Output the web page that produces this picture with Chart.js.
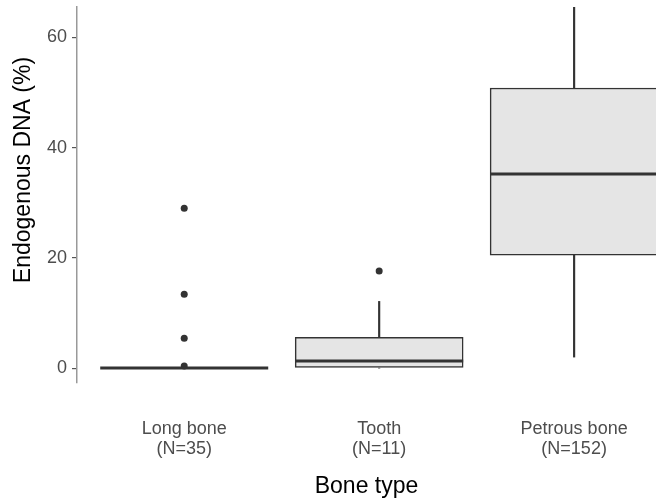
<!DOCTYPE html>
<html>
<head>
<meta charset="utf-8">
<script src="https://cdn.jsdelivr.net/npm/chart.js@4"></script>
<style>
  body { margin: 0; background: #fff; }
  #wrap { width: 656px; height: 501px; }
</style>
</head>
<body>
<div id="wrap"><canvas id="boneChart"></canvas></div>
<script>
// boxplot numbers
const categories = ["Long bone", "Tooth", "Petrous bone"];
const counts = [35, 11, 152];
const q1 = [0, 0, 20.5];
const median = [0, 1.3, 35.2];
const q3 = [0, 5.6, 50.8];
const whiskerLow = [0, 0, 2.0];
const whiskerHigh = [0, 12.1, 70];
const outliers = [[29.0, 13.4, 5.4, 0.4], [17.6], []];
const yTicks = [0, 20, 40, 60];

const font = '"Liberation Sans", Arial, Helvetica, sans-serif';
const dark = "#333333";

let boxes = [], lows = [], highs = [], meds = [], pts = [];
for (let i = 0; i < categories.length; i++) {
  boxes.push({ x: i + 1, y: [q1[i], q3[i]] });
  lows.push({ x: i + 1, y: [whiskerLow[i], q1[i]] });
  highs.push({ x: i + 1, y: [q3[i], whiskerHigh[i]] });
  meds.push({ x: i + 1, y: median[i] });
  for (let j = 0; j < outliers[i].length; j++) {
    pts.push({ x: i + 1, y: outliers[i][j] });
  }
}

// y axis title drawn by hand so it can sit where the original has it
const yTitle = {
  id: "yTitle",
  afterDraw(chart) {
    const ctx = chart.ctx;
    ctx.save();
    ctx.translate(24, 170);
    ctx.rotate(-Math.PI / 2);
    ctx.font = "23px " + font;
    ctx.fillStyle = "#000";
    ctx.textAlign = "center";
    ctx.textBaseline = "middle";
    ctx.fillText("Endogenous DNA (%)", 0, 0);
    ctx.restore();
  }
};

new Chart(document.getElementById("boneChart"), {
  type: "bar",
  data: {
    datasets: [
      { type: "scatter", data: meds, pointStyle: "line", pointRadius: 84, pointHoverRadius: 84,
        pointBorderWidth: 3, borderColor: dark, backgroundColor: dark, order: 0 },
      { type: "scatter", data: pts, pointRadius: 3.5, pointHoverRadius: 3.5,
        backgroundColor: dark, borderColor: dark, pointBorderWidth: 0, order: 1 },
      { data: lows, backgroundColor: dark, barThickness: 1.5, grouped: false, order: 2 },
      { data: highs, backgroundColor: dark, barThickness: 1.5, grouped: false, order: 3 },
      { data: boxes, backgroundColor: "#e5e5e5", borderColor: dark, borderWidth: 1.5,
        borderSkipped: false, barThickness: 168, grouped: false, order: 4 }
    ]
  },
  options: {
    responsive: true,
    maintainAspectRatio: false,
    animation: false,
    layout: { autoPadding: false, padding: { top: 7, right: 0, bottom: 0, left: 0 } },
    plugins: { legend: { display: false }, tooltip: { enabled: false } },
    scales: {
      x: {
        type: "linear",
        offset: false,
        min: 0.45,
        max: 3.42,
        grid: { display: false },
        border: { display: false },
        afterBuildTicks: (s) => { s.ticks = categories.map((c, i) => ({ value: i + 1 })); },
        afterFit: (s) => { s.height = 118; s.paddingLeft = 0; s.paddingRight = 0; },
        ticks: {
          padding: 28,
          color: "#4d4d4d",
          font: { family: font, size: 18, lineHeight: 1.1 },
          maxRotation: 0,
          callback: (v) => [categories[v - 1], "(N=" + counts[v - 1] + ")"]
        },
        title: {
          display: true,
          text: "Bone type",
          color: "#000",
          font: { family: font, size: 23 },
          padding: { top: 4, bottom: 1 }
        }
      },
      y: {
        min: -2.7,
        max: 65.5,
        afterBuildTicks: (s) => { s.ticks = yTicks.map((v) => ({ value: v })); },
        afterFit: (s) => { s.width = 77; s.paddingTop = 0; s.paddingBottom = 0; },
        grid: { drawOnChartArea: false, tickLength: 5, color: "#555", lineWidth: 1.2 },
        border: { display: true, color: "#999", width: 1.5 },
        ticks: {
          padding: 5,
          color: "#4d4d4d",
          font: { family: font, size: 18 }
        }
      }
    }
  },
  plugins: [yTitle]
});
</script>
</body>
</html>
